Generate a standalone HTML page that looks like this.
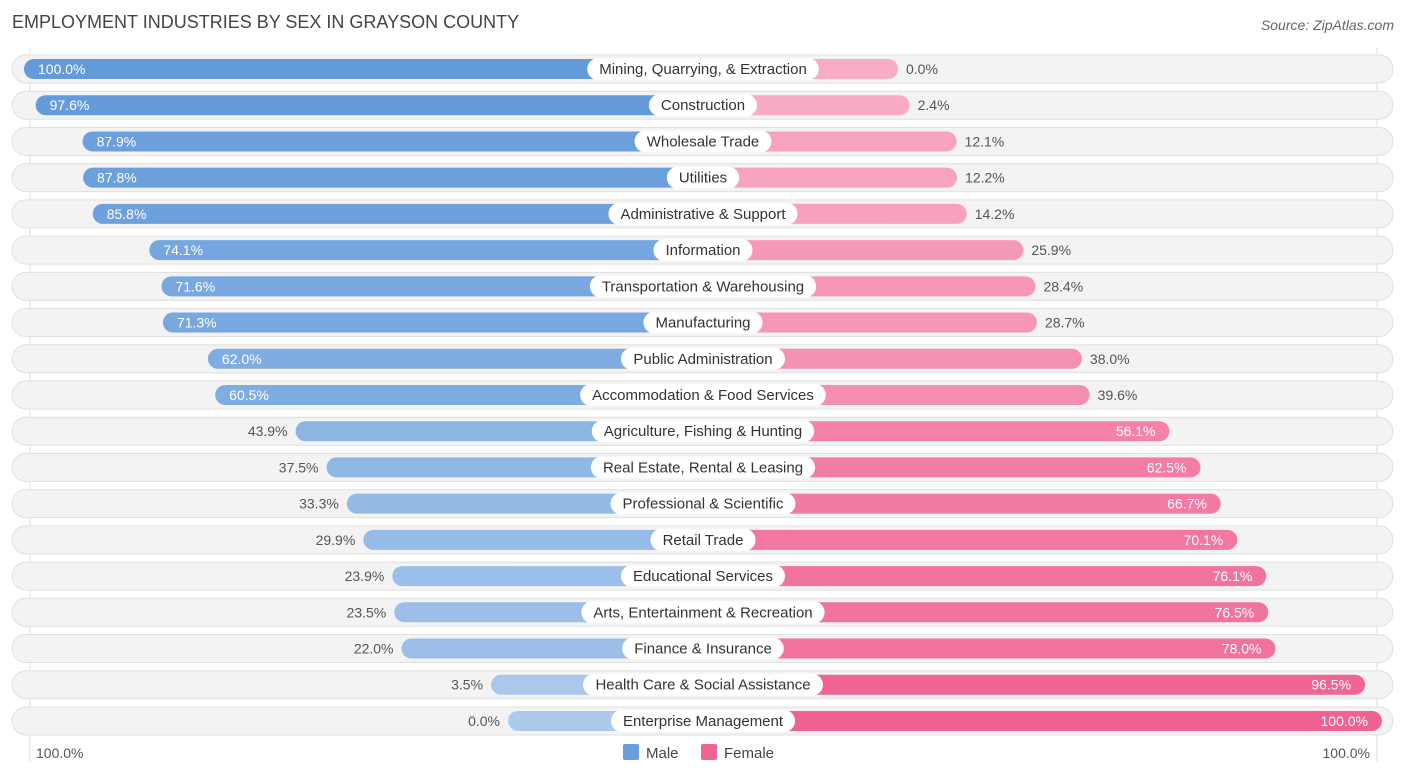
<!DOCTYPE html>
<html><head><meta charset="utf-8"><style>
body{margin:0;width:1406px;height:776px;background:#fff;font-family:"Liberation Sans",sans-serif;overflow:hidden}
</style></head><body>
<svg id="c" width="1406" height="776" xmlns="http://www.w3.org/2000/svg">
<text x="12" y="28" font-size="18" fill="#444">EMPLOYMENT INDUSTRIES BY SEX IN GRAYSON COUNTY</text>
<text x="1394" y="30" font-size="14" fill="#666" font-style="italic" text-anchor="end">Source: ZipAtlas.com</text>
<line x1="30" y1="48" x2="30" y2="762" stroke="#ddd"/>
<line x1="1377" y1="48" x2="1377" y2="762" stroke="#ddd"/>
<g id="rows"></g>
<text x="36" y="758" font-size="14" fill="#555">100.0%</text>
<text x="1370" y="758" font-size="14" fill="#555" text-anchor="end">100.0%</text>
<rect x="623" y="744" width="16" height="16" rx="2" fill="#6a9fdc"/>
<text x="646" y="758" font-size="15" fill="#444">Male</text>
<rect x="701" y="744" width="16" height="16" rx="2" fill="#f06592"/>
<text x="724" y="758" font-size="15" fill="#444">Female</text>
</svg>
<script>
const categories=["Mining, Quarrying, & Extraction","Construction","Wholesale Trade","Utilities","Administrative & Support","Information","Transportation & Warehousing","Manufacturing","Public Administration","Accommodation & Food Services","Agriculture, Fishing & Hunting","Real Estate, Rental & Leasing","Professional & Scientific","Retail Trade","Educational Services","Arts, Entertainment & Recreation","Finance & Insurance","Health Care & Social Assistance","Enterprise Management"];
const male=[100.0,97.6,87.9,87.8,85.8,74.1,71.6,71.3,62.0,60.5,43.9,37.5,33.3,29.9,23.9,23.5,22.0,3.5,0.0];
const female=[0.0,2.4,12.1,12.2,14.2,25.9,28.4,28.7,38.0,39.6,56.1,62.5,66.7,70.1,76.1,76.5,78.0,96.5,100.0];
const NS="http://www.w3.org/2000/svg";
const cx=703,minW=195,maxW=679,y0=69,step=36.22;
function w(v){return minW+v/100*(maxW-minW);}
function ry(i){return y0+i*step;}
function mix(a,b,t){return "rgb("+a.map((x,k)=>Math.round(x+(b[k]-x)*t)).join(",")+")";}
function mk(tag,attrs,p){const e=document.createElementNS(NS,tag);for(const k in attrs)e.setAttribute(k,attrs[k]);p.appendChild(e);return e;}
const g=document.getElementById("rows");
const cv=document.createElement("canvas").getContext("2d");cv.font="15px 'Liberation Sans'";
categories.forEach((c,i)=>{
  const y=ry(i);
  const bg=mk("rect",{x:12,y:y-14,width:1381,height:28,rx:14,fill:"#f3f3f3",stroke:"#e0e0e0"},g);
  
  
  const mw=w(male[i]),fw=w(female[i]);
  const mb=mk("rect",{x:cx-mw,y:y-10,width:mw,height:20,rx:10,fill:mix([172,202,236],[99,154,218],male[i]/100)},g);
  
  
  const fb=mk("rect",{x:cx,y:y-10,width:fw,height:20,rx:10,fill:mix([248,172,199],[240,98,145],female[i]/100)},g);
  
  
  const tw=cv.measureText(c).width+24;
  const lb=mk("rect",{x:cx-tw/2,y:y-11,width:tw,height:22,rx:11,fill:"#fff"},g);
  
  
  const lt=mk("text",{x:cx,y:y+5,"font-size":15,fill:"#333","text-anchor":"middle"},g);lt.textContent=c;
  
  
  const min=male[i]>=50;
  const mt=mk("text",{x:min?cx-mw+14:cx-mw-8,y:y+5,"font-size":14,fill:min?"#fff":"#555","text-anchor":min?"start":"end"},g);
  mt.textContent=male[i].toFixed(1)+"%";
  
  
  const fin=female[i]>=50;
  const ft=mk("text",{x:fin?cx+fw-14:cx+fw+8,y:y+5,"font-size":14,fill:fin?"#fff":"#555","text-anchor":fin?"end":"start"},g);
  ft.textContent=female[i].toFixed(1)+"%";
  
  
});
</script>
</body></html>
